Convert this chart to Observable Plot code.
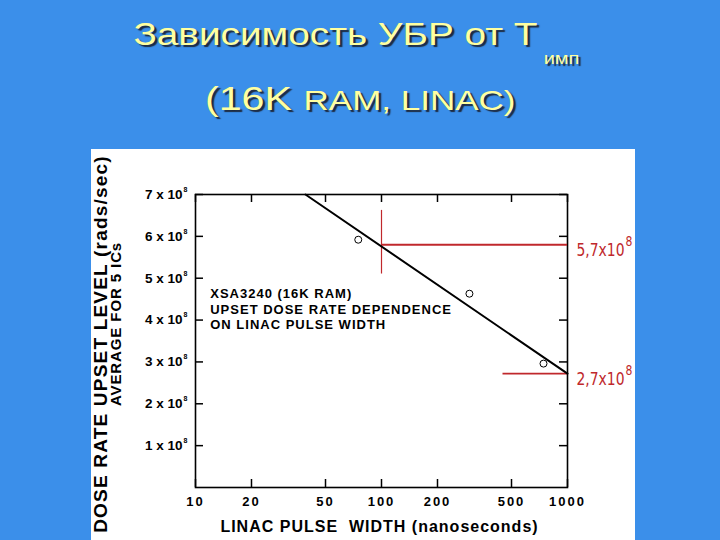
<!DOCTYPE html>
<html><head><meta charset="utf-8">
<script src="https://cdn.jsdelivr.net/npm/d3@7"></script>
<script src="https://cdn.jsdelivr.net/npm/@observablehq/plot@0.6"></script>
<style>
html,body{margin:0;padding:0;}
body{width:720px;height:540px;background:#3b8fea;position:relative;overflow:hidden;font-family:"Liberation Sans",Arial,sans-serif;}
.t{position:absolute;left:0;width:720px;text-align:center;white-space:nowrap;color:#ffffa0;text-shadow:2px 2px 1px #1d2a40;}
.t>div{display:inline-block;transform:scaleX(1.25);transform-origin:center;}
#t1{top:19px;font-size:31px;line-height:31px;left:-4px;}
#t1 .sub{font-size:16px;vertical-align:-19px;margin-left:5px;}
#t2{top:82px;font-size:33px;line-height:33px;}
#t2 .small{font-size:28px;}
#chart{position:absolute;left:91px;top:149px;}
#chart g[aria-description="x-tick"] text{letter-spacing:2px;}
#chart g[aria-description="anno"] text{letter-spacing:1px;}
#chart g[aria-description="x-title"] text{letter-spacing:1px;}
#chart g[aria-description="y-title-1"] text{letter-spacing:1.2px;}
#chart g[aria-description="y-title-2"] text{letter-spacing:0.9px;}
</style></head><body>
<div class="t" id="t1"><div>Зависимость УБР от Т<span class="sub">имп</span></div></div>
<div class="t" id="t2"><div>(16K <span class="small">RAM, LINAC)</span></div></div>
<div id="chart"></div>
<script>
// ---- data ----
const xTicks = [10, 20, 50, 100, 200, 500, 1000];
const yTicks = [1e8, 2e8, 3e8, 4e8, 5e8, 6e8, 7e8];
const fitX = [39, 1000];
const fitY = [7e8, 2.72e8];
const pointX = [75, 297, 743];
const pointY = [5.92e8, 4.63e8, 2.96e8];
const levelY = [5.8e8, 2.72e8];
const levelStartX = [100, 450];
const levelLabels = ["5,7x10", "2,7x10"];
const guideX = [100];
const guideY1 = [5.1e8];
const guideY2 = [6.62e8];
const annoX = [12];
const annoY = [4.78e8];
const annoText = ["XSA3240 (16K RAM)\nUPSET DOSE RATE DEPENDENCE\nON LINAC PULSE WIDTH"];
const xTitle = "LINAC PULSE  WIDTH (nanoseconds)";
const yTitle1 = "DOSE RATE UPSET LEVEL (rads/sec)";
const yTitle2 = "AVERAGE FOR 5 ICs";

const red = "#c0282c";
const fitLine = fitX.map((x, i) => ({x, y: fitY[i]}));
const points = pointX.map((x, i) => ({x, y: pointY[i]}));
const levels = levelY.map((y, i) => ({y, x1: levelStartX[i], label: levelLabels[i]}));
const guides = guideX.map((x, i) => ({x, y1: guideY1[i], y2: guideY2[i]}));
const annos = annoText.map((t, i) => ({x: annoX[i], y: annoY[i], t}));

const svg = Plot.plot({
  width: 544,
  height: 391,
  marginLeft: 104,
  marginRight: 68,
  marginTop: 45,
  marginBottom: 53,
  x: {type: "log", domain: [10, 1000], axis: null},
  y: {domain: [0, 7e8], axis: null},
  style: {fontFamily: "'Liberation Sans', Arial, sans-serif", fontWeight: "bold", background: "white", color: "black", overflow: "visible"},
  marks: [
    // inward ticks
    Plot.ruleX(xTicks, {x: d => d, y1: 0, y2: 0, insetBottom: 8, stroke: "black", strokeWidth: 1.5}),
    Plot.ruleX(xTicks, {x: d => d, y1: 7e8, y2: 7e8, insetTop: 8, stroke: "black", strokeWidth: 1.5}),
    Plot.ruleY(yTicks, {y: d => d, x1: 10, x2: 10, insetLeft: 8, stroke: "black", strokeWidth: 1.5}),
    Plot.ruleY(yTicks, {y: d => d, x1: 1000, x2: 1000, insetRight: 8, stroke: "black", strokeWidth: 1.5}),
    Plot.frame({stroke: "black", strokeWidth: 1.6}),
    // tick labels
    Plot.text(xTicks, {x: d => d, frameAnchor: "bottom", text: d => String(d), dy: 14, lineAnchor: "middle", fontSize: 13, fontWeight: "bold", ariaDescription: "x-tick"}),
    Plot.text(yTicks, {y: d => d, frameAnchor: "left", text: d => `${Math.round(d / 1e8)} x 10`, dx: -8, textAnchor: "end", lineAnchor: "middle", fontSize: 13.5, fontWeight: "bold", ariaDescription: "y-tick"}),
    // red guides
    Plot.ruleY(levels, {y: "y", x1: "x1", x2: 1000, stroke: red, strokeWidth: 1.8}),
    Plot.ruleX(guides, {x: "x", y1: "y1", y2: "y2", stroke: red, strokeWidth: 1.2}),
    // fit line and points
    Plot.line(fitLine, {x: "x", y: "y", stroke: "black", strokeWidth: 2}),
    Plot.dot(points, {x: "x", y: "y", r: 3.5, stroke: "black", fill: "white", strokeWidth: 1}),
    // annotation
    Plot.text(annos, {x: "x", y: "y", text: "t", textAnchor: "start", lineAnchor: "top", lineHeight: 1.18, fontSize: 13, fontWeight: "bold", ariaDescription: "anno"}),
    Plot.text(levels, {x: 1000, y: "y", text: "label", dx: 9, dy: 6, textAnchor: "start", fill: red, fontSize: 18, fontWeight: "normal", fontFamily: "'Liberation Sans Narrow', 'DejaVu Sans Condensed', 'Liberation Sans', sans-serif", ariaDescription: "level-label"}),
    // axis titles
    Plot.text([xTitle], {frameAnchor: "bottom", text: d => d, dy: 39, dx: -2, lineAnchor: "middle", fontSize: 16, fontWeight: "bold", ariaDescription: "x-title"}),
    Plot.text([yTitle1], {frameAnchor: "left", text: d => d, rotate: -90, dx: -94.5, dy: 3, textAnchor: "middle", lineAnchor: "middle", fontSize: 19, fontWeight: "bold", ariaDescription: "y-title-1"}),
    Plot.text([yTitle2], {frameAnchor: "left", text: d => d, rotate: -90, dx: -79, dy: -17, textAnchor: "middle", lineAnchor: "middle", fontSize: 15, fontWeight: "bold", ariaDescription: "y-title-2"})
  ]
});

function addSup(sel, size, dy, dx, sx) {
  svg.querySelectorAll(sel).forEach(t => {
    const ts = document.createElementNS("http://www.w3.org/2000/svg", "tspan");
    ts.setAttribute("dy", dy);
    ts.setAttribute("dx", dx);
    ts.setAttribute("font-size", size);
    ts.textContent = "8";
    t.appendChild(ts);
    if (sx) {
      const tr = t.getAttribute("transform");
      if (tr) {
        t.setAttribute("transform", tr + ` scale(${sx},1)`);
      } else {
        const x = +(t.getAttribute("x") || 0), y = +(t.getAttribute("y") || 0);
        t.setAttribute("x", 0); t.setAttribute("y", 0);
        t.setAttribute("transform", `translate(${x},${y}) scale(${sx},1)`);
      }
    }
  });
}
addSup('g[aria-description="y-tick"] text', 7, -7, 1);
addSup('g[aria-description="level-label"] text', 14, -10, 1, 0.86);

document.getElementById("chart").appendChild(svg);
</script>
</body></html>
